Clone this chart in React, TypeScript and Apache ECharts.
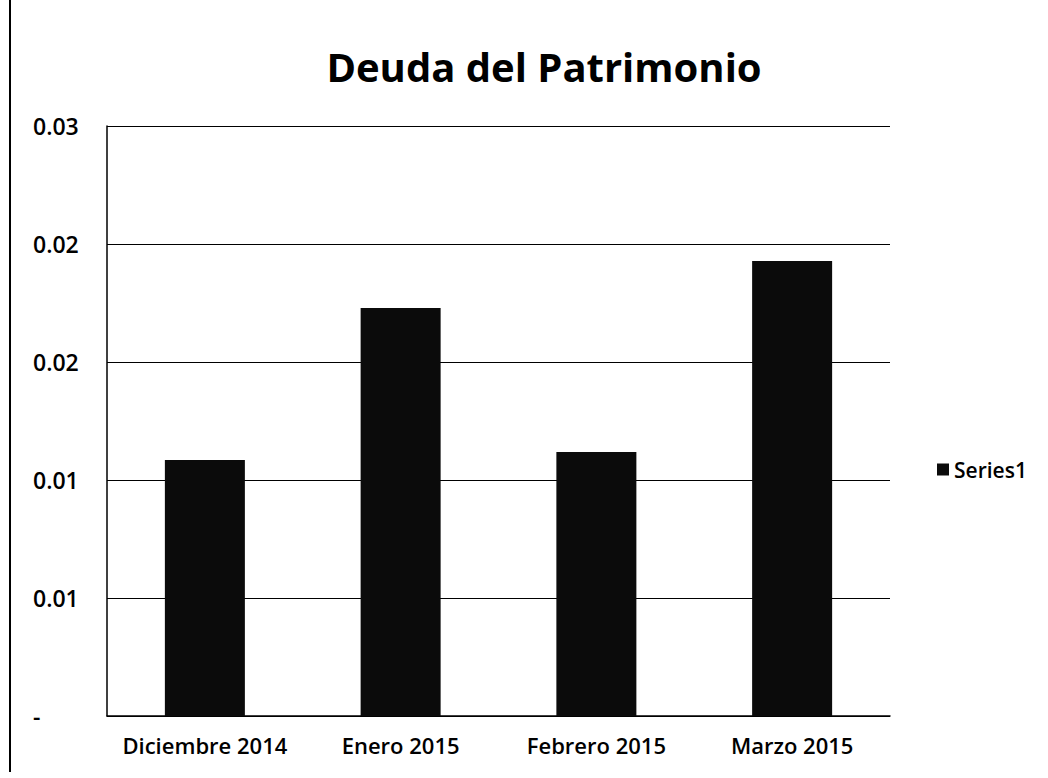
import React, { useEffect, useRef } from "react";
import * as echarts from "echarts";

const categories = ["Diciembre 2014", "Enero 2015", "Febrero 2015", "Marzo 2015"];
const series1 = [0.01085, 0.01729, 0.01119, 0.01928];
const yTickLabels = ["-", "0.01", "0.01", "0.02", "0.02", "0.03"];
const titleText = "Deuda del Patrimonio";
const seriesName = "Series1";

export default function App() {
  const ref = useRef<HTMLDivElement>(null);
  useEffect(() => {
    if (!ref.current) return;
    const chart = echarts.init(ref.current, undefined, { renderer: "svg" });
    const font = "'Open Sans', Lato, sans-serif";
    chart.setOption({
      animation: false,
      backgroundColor: "#ffffff",
      title: {
        text: titleText,
        left: 539,
        top: 41,
        textAlign: "center",
        textStyle: { fontFamily: font, fontSize: 40, fontWeight: "bold", color: "#000" },
      },
      legend: {
        orient: "vertical",
        left: 932,
        top: 454,
        itemWidth: 12,
        itemHeight: 12,
        itemGap: 4,
        icon: "rect",
        textStyle: { fontFamily: font, fontSize: 21, fontWeight: 600, color: "#000" },
        data: [seriesName],
      },
      grid: { left: 107, right: 158, top: 126, bottom: 62, containLabel: false },
      xAxis: {
        type: "category",
        data: categories,
        axisLine: { show: true, lineStyle: { color: "#000", width: 1.5 } },
        axisTick: { show: false },
        axisLabel: {
          fontFamily: font,
          fontSize: 22,
          fontWeight: 600,
          color: "#000",
          margin: 18,
          interval: 0,
          hideOverlap: false,
        },
      },
      yAxis: {
        type: "value",
        min: 0,
        max: 0.025,
        interval: 0.005,
        axisLine: { show: true, lineStyle: { color: "#000", width: 1.5 } },
        axisTick: { show: false },
        splitLine: { show: true, lineStyle: { color: "#000", width: 1.2 } },
        axisLabel: {
          fontFamily: font,
          fontSize: 23,
          fontWeight: 600,
          color: "#000",
          margin: 74,
          align: "left",
          formatter: (v: number) => yTickLabels[Math.round(v / 0.005)] ?? "",
        },
      },
      series: [
        {
          name: seriesName,
          type: "bar",
          data: series1,
          barWidth: 80,
          itemStyle: { color: "#0b0b0b" },
        },
      ],
      graphic: [
        {
          type: "line",
          shape: { x1: 10, y1: 0, x2: 10, y2: 772 },
          style: { stroke: "#000", lineWidth: 2 },
        },
      ],
    });
    return () => chart.dispose();
  }, []);
  return (
    <div
      ref={ref}
      style={{ position: "absolute", left: 0, top: 0, width: 1048, height: 778 }}
    />
  );
}
